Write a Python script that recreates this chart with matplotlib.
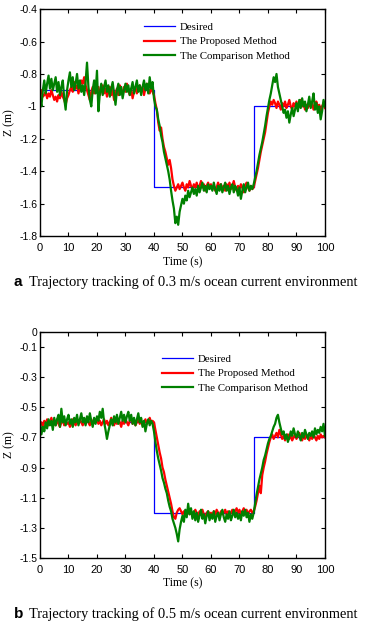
import numpy as np
import matplotlib
matplotlib.use("Agg")
import matplotlib.pyplot as plt

# time grid, 0.5 s step
t = np.linspace(0, 100, 201)

# desired depth steps (time of switch, level)
step_t = [0, 40, 40, 75, 75, 100]
desired_a = [-0.9, -0.9, -1.5, -1.5, -1.0, -1.0]
desired_b = [-0.6, -0.6, -1.2, -1.2, -0.7, -0.7]

# (a) 0.3 m/s current
proposed_a = [
    -0.92, -0.90, -0.94, -0.93, -0.91, -0.95, -0.92, -0.94, -0.90, -0.93,
    -0.96, -0.94, -0.97, -0.93, -0.95, -0.91, -0.94, -0.96, -0.99, -0.95,
    -0.93, -0.90, -0.88, -0.91, -0.85, -0.89, -0.87, -0.92, -0.88, -0.84,
    -0.86, -0.82, -0.87, -0.90, -0.93, -0.96, -0.91, -0.88, -0.92, -0.89,
    -0.91, -0.88, -0.93, -0.90, -0.87, -0.92, -0.89, -0.94, -0.91, -0.88,
    -0.93, -0.90, -0.96, -0.92, -0.89, -0.93, -0.87, -0.90, -0.92, -0.88,
    -0.91, -0.86, -0.90, -0.93, -0.89, -0.95, -0.91, -0.88, -0.92, -0.89,
    -0.87, -0.91, -0.88, -0.93, -0.89, -0.86, -0.90, -0.92, -0.88, -0.91,
    -0.93, -0.98, -1.02, -1.10, -1.15, -1.13, -1.20, -1.25, -1.28, -1.32,
    -1.36, -1.33, -1.38, -1.45, -1.49, -1.52, -1.50, -1.48, -1.51, -1.49,
    -1.47, -1.50, -1.52, -1.48, -1.50, -1.46, -1.49, -1.51, -1.48, -1.50,
    -1.47, -1.51, -1.49, -1.46, -1.50, -1.48, -1.52, -1.49, -1.47, -1.50,
    -1.48, -1.51, -1.49, -1.52, -1.50, -1.47, -1.50, -1.48, -1.51, -1.49,
    -1.52, -1.48, -1.50, -1.47, -1.51, -1.49, -1.46, -1.50, -1.52, -1.49,
    -1.51, -1.48, -1.50, -1.53, -1.49, -1.47, -1.50, -1.52, -1.49, -1.51,
    -1.50, -1.46, -1.42, -1.38, -1.33, -1.28, -1.24, -1.20, -1.16, -1.10,
    -1.04, -1.00, -0.97, -0.99, -0.96, -0.98, -1.01, -0.97, -0.99, -1.02,
    -0.98, -1.00, -0.97, -1.01, -0.99, -0.96, -1.00, -1.02, -0.98, -1.00,
    -0.97, -1.01, -0.99, -0.96, -1.00, -0.98, -1.02, -0.99, -1.01, -0.97,
    -1.00, -0.98, -1.02, -0.99, -0.97, -1.01, -0.99, -1.03, -1.00, -0.98,
    -1.01,
]
comparison_a = [
    -0.95, -1.00, -0.90, -0.84, -0.92, -0.86, -0.81, -0.89, -0.83, -0.90,
    -0.86, -0.82, -0.91, -0.85, -0.93, -0.88, -0.84, -0.95, -1.02, -0.90,
    -0.84, -0.79, -0.88, -0.82, -0.90, -0.86, -0.80, -0.89, -0.84, -0.91,
    -0.87, -0.93, -0.85, -0.73, -0.88, -0.96, -1.00, -0.90, -0.84, -0.92,
    -0.78, -1.03, -0.92, -0.86, -0.93, -0.88, -0.84, -0.91, -0.87, -0.94,
    -0.89, -0.85, -0.92, -0.99, -0.90, -0.86, -0.93, -0.88, -0.95, -0.90,
    -0.86, -0.91, -0.87, -0.93, -0.89, -0.85, -0.92, -0.88, -0.84, -0.91,
    -0.87, -0.93, -0.88, -0.84, -0.90, -0.86, -0.92, -0.82, -0.89, -0.85,
    -0.95, -1.00, -1.02, -1.08, -1.12, -1.18, -1.22, -1.28, -1.32, -1.36,
    -1.40, -1.45, -1.52, -1.58, -1.63, -1.72, -1.68, -1.73, -1.65, -1.61,
    -1.57, -1.60, -1.55, -1.58, -1.52, -1.56, -1.53, -1.50, -1.54, -1.51,
    -1.55, -1.49, -1.53, -1.50, -1.47, -1.52, -1.49, -1.53, -1.48, -1.51,
    -1.49, -1.52, -1.47, -1.51, -1.54, -1.49, -1.52, -1.48, -1.53, -1.50,
    -1.47, -1.52, -1.49, -1.54, -1.50, -1.48, -1.53, -1.49, -1.51, -1.55,
    -1.50, -1.57, -1.52, -1.48, -1.53, -1.50, -1.47, -1.52, -1.49, -1.51,
    -1.48, -1.44, -1.40, -1.35, -1.30, -1.26, -1.22, -1.17, -1.12, -1.06,
    -1.01, -0.96, -0.92, -0.87, -0.82, -0.85, -0.80, -0.88, -0.92, -0.96,
    -1.00, -1.04, -1.02, -1.07, -1.03, -1.10, -1.05, -1.01, -1.06, -1.02,
    -0.98, -1.03, -0.96, -1.01, -0.95, -1.00, -0.97, -1.03, -0.99, -0.94,
    -1.01, -0.97, -0.92, -1.02, -0.98, -1.04, -1.00, -1.08, -1.03, -0.96,
    -1.00,
]

# (b) 0.5 m/s current
proposed_b = [
    -0.62, -0.60, -0.63, -0.59, -0.61, -0.58, -0.62, -0.60, -0.57, -0.61,
    -0.59, -0.62, -0.58, -0.61, -0.63, -0.60, -0.58, -0.62, -0.59, -0.61,
    -0.60, -0.63, -0.61, -0.58, -0.60, -0.62, -0.59, -0.61, -0.58, -0.60,
    -0.62, -0.59, -0.61, -0.57, -0.60, -0.62, -0.58, -0.61, -0.59, -0.60,
    -0.58, -0.61, -0.59, -0.62, -0.60, -0.58, -0.61, -0.59, -0.62, -0.60,
    -0.57, -0.60, -0.62, -0.59, -0.61, -0.58, -0.60, -0.63, -0.59, -0.61,
    -0.58, -0.60, -0.62, -0.59, -0.57, -0.61, -0.59, -0.62, -0.60, -0.58,
    -0.61, -0.59, -0.62, -0.60, -0.58, -0.61, -0.59, -0.57, -0.60, -0.59,
    -0.60, -0.65, -0.70, -0.75, -0.80, -0.84, -0.90, -0.93, -0.98, -1.02,
    -1.06, -1.10, -1.14, -1.19, -1.23, -1.24, -1.20, -1.18, -1.17, -1.19,
    -1.21, -1.19, -1.22, -1.20, -1.18, -1.21, -1.19, -1.22, -1.20, -1.18,
    -1.20, -1.22, -1.19, -1.21, -1.18, -1.21, -1.23, -1.20, -1.19, -1.21,
    -1.20, -1.22, -1.19, -1.21, -1.18, -1.20, -1.22, -1.19, -1.21, -1.20,
    -1.18, -1.21, -1.19, -1.22, -1.20, -1.18, -1.21, -1.19, -1.17, -1.20,
    -1.18, -1.21, -1.19, -1.17, -1.20, -1.18, -1.21, -1.19, -1.18, -1.20,
    -1.19, -1.16, -1.12, -1.07, -1.02, -1.07, -0.95, -0.90, -0.86, -0.81,
    -0.77, -0.73, -0.70, -0.68, -0.71, -0.69, -0.67, -0.70, -0.65, -0.68,
    -0.71, -0.69, -0.72, -0.70, -0.68, -0.71, -0.69, -0.72, -0.70, -0.68,
    -0.71, -0.69, -0.67, -0.70, -0.72, -0.69, -0.71, -0.68, -0.70, -0.72,
    -0.69, -0.71, -0.68, -0.70, -0.72, -0.69, -0.71, -0.68, -0.70, -0.69,
    -0.70,
]
comparison_b = [
    -0.60, -0.68, -0.63, -0.66, -0.60, -0.64, -0.58, -0.62, -0.59, -0.65,
    -0.57, -0.62, -0.58, -0.55, -0.63, -0.51, -0.60, -0.56, -0.62, -0.58,
    -0.55, -0.61, -0.58, -0.63, -0.57, -0.60, -0.55, -0.62, -0.58, -0.54,
    -0.60, -0.57, -0.62, -0.56, -0.60, -0.54, -0.59, -0.63, -0.57, -0.61,
    -0.56, -0.59, -0.53, -0.57, -0.51, -0.60, -0.65, -0.71, -0.66, -0.62,
    -0.58, -0.62, -0.56, -0.60, -0.55, -0.61, -0.57, -0.53, -0.59, -0.55,
    -0.60, -0.56, -0.53, -0.59, -0.55, -0.61, -0.57, -0.62, -0.58, -0.54,
    -0.60, -0.57, -0.63, -0.59, -0.66, -0.61, -0.58, -0.62, -0.59, -0.61,
    -0.66, -0.73, -0.79, -0.84, -0.88, -0.92, -0.97, -1.00, -1.04, -1.07,
    -1.12, -1.16, -1.19, -1.24, -1.27, -1.30, -1.34, -1.39, -1.31, -1.26,
    -1.22, -1.26, -1.18, -1.23, -1.14, -1.21, -1.17, -1.24, -1.19, -1.25,
    -1.20, -1.26, -1.22, -1.18, -1.24, -1.21, -1.27, -1.22, -1.19, -1.25,
    -1.21, -1.24, -1.19, -1.26, -1.22, -1.20, -1.25, -1.21, -1.18, -1.23,
    -1.26, -1.21, -1.24, -1.19, -1.25, -1.22, -1.18, -1.23, -1.20, -1.24,
    -1.21, -1.25, -1.19, -1.22, -1.18, -1.23, -1.20, -1.26, -1.21, -1.24,
    -1.20, -1.14, -1.08, -1.03, -0.98, -0.94, -0.90, -0.85, -0.82, -0.78,
    -0.74, -0.71, -0.69, -0.66, -0.63, -0.61, -0.57, -0.55, -0.60, -0.64,
    -0.68, -0.66, -0.71, -0.68, -0.73, -0.70, -0.66, -0.69, -0.64, -0.68,
    -0.70, -0.66, -0.69, -0.72, -0.67, -0.70, -0.65, -0.68, -0.71, -0.67,
    -0.69, -0.66, -0.70, -0.64, -0.68, -0.65, -0.67, -0.63, -0.66, -0.61,
    -0.69,
]

xticks = list(range(0, 101, 10))
yticks_a = [-0.4, -0.6, -0.8, -1.0, -1.2, -1.4, -1.6, -1.8]
ytick_labels_a = ["-0.4", "-0.6", "-0.8", "-1", "-1.2", "-1.4", "-1.6", "-1.8"]
yticks_b = [0, -0.1, -0.3, -0.5, -0.7, -0.9, -1.1, -1.3, -1.5]
ytick_labels_b = ["0", "-0.1", "-0.3", "-0.5", "-0.7", "-0.9", "-1.1", "-1.3", "-1.5"]

labels = ["Desired", "The Proposed Method", "The Comparison Method"]
captions = [("a", "Trajectory tracking of 0.3 m/s ocean current environment"),
            ("b", "Trajectory tracking of 0.5 m/s ocean current environment")]

serif = "Liberation Serif"
sans = "Liberation Sans"

fig = plt.figure(figsize=(3.72, 6.28), dpi=100)
ax_a = fig.add_axes([0.1075, 0.624, 0.766, 0.3615])
ax_b = fig.add_axes([0.1075, 0.1115, 0.766, 0.360])

panels = [
    (ax_a, desired_a, proposed_a, comparison_a, (-1.8, -0.4), yticks_a, ytick_labels_a, (0.365, 0.942)),
    (ax_b, desired_b, proposed_b, comparison_b, (-1.5, 0.0), yticks_b, ytick_labels_b, (0.428, 0.901)),
]

for ax, des, prop, comp, ylim, yt, ytl, leg_pos in panels:
    ax.plot(step_t, des, color="#0000ff", lw=0.9, label=labels[0])
    ax.plot(t, prop, color="#ff0000", lw=1.6, label=labels[1])
    ax.plot(t, comp, color="#008000", lw=1.6, label=labels[2])
    ax.set_xlim(0, 100)
    ax.set_ylim(*ylim)
    ax.set_xticks(xticks)
    ax.set_yticks(yt)
    ax.set_yticklabels(ytl)
    ax.tick_params(direction="in", top=True, right=True, length=3, width=0.8,
                   labelsize=8, pad=2)
    ax.tick_params(axis="y", labelsize=7.5)
    ax.tick_params(axis="x", pad=5)
    for lbl in ax.get_xticklabels() + ax.get_yticklabels():
        lbl.set_fontfamily(sans)
    for sp in ax.spines.values():
        sp.set_linewidth(1.0)
    ax.set_xlabel("Time (s)", fontfamily=serif, fontsize=8.5, labelpad=2)
    ax.set_ylabel("Z (m)", fontfamily=serif, fontsize=8.5)
    ax.yaxis.set_label_coords(-0.086, 0.5)
    ax.legend(loc="upper left", bbox_to_anchor=leg_pos, frameon=False,
              prop={"family": serif, "size": 7.8}, borderpad=0, borderaxespad=0,
              handlelength=2.9, handletextpad=0.4, labelspacing=0.45)

for (letter, text), ypx in zip(captions, [282, 614]):
    y = 1 - ypx / 628
    fig.text(14 / 372, y, letter, fontfamily=sans, fontweight="bold", fontsize=11, va="center")
    fig.text(29 / 372, y, text, fontfamily=serif, fontsize=10.4, va="center")

fig.savefig("out.png", dpi=100)
